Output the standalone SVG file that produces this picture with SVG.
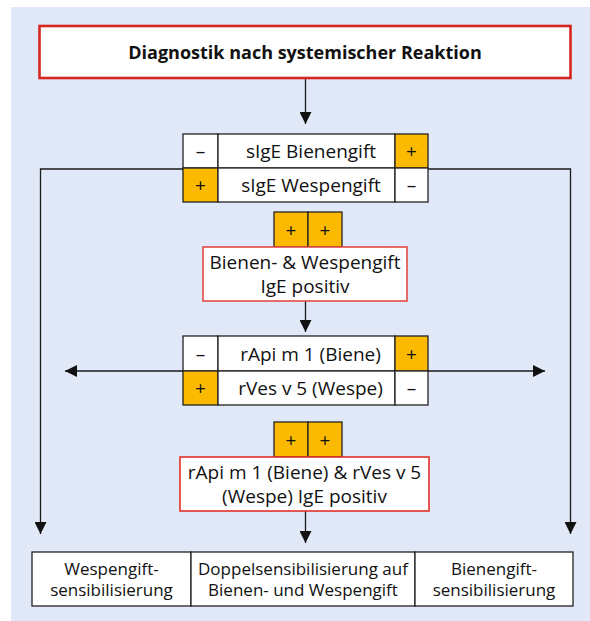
<svg xmlns="http://www.w3.org/2000/svg" width="590" height="621" viewBox="0 0 590 621">
  <defs>
    <style>
      .panel { fill: #e1e8f7; }
      .box { fill: #ffffff; stroke: #222222; stroke-width: 1.3; }
      .pos { fill: #fbb900; stroke: #222222; stroke-width: 1.3; }
      .neg { fill: #ffffff; stroke: #222222; stroke-width: 1.3; }
      .red { fill: #ffffff; stroke: #e0302a; stroke-width: 1.6; }
      .soft { stroke: #e34a45; }
      .head { fill: #ffffff; stroke: #d7261e; stroke-width: 2.6; }
      .wire { fill: none; stroke: #1a1a1a; stroke-width: 1.3; }
      text { font-family: "Open Sans", "Liberation Sans", sans-serif; font-size: 19px; fill: #111111; text-anchor: middle; }
      .title { font-weight: bold; font-size: 18px; }
      .out { font-size: 17px; }
    </style>
    <marker id="arrow" viewBox="0 0 12 12" refX="12" refY="6" markerWidth="12" markerHeight="12" markerUnits="userSpaceOnUse" orient="auto">
      <path d="M0,0 L12,6 L0,12 z" fill="#111111"/>
    </marker>
  </defs>

  <rect class="panel" x="11" y="7" width="579" height="614"/>

  <!-- connectors -->
  <g id="connectors">
    <line class="wire" x1="305.5" y1="79" x2="305.5" y2="124" marker-end="url(#arrow)"/>
    <polyline class="wire" points="183,169 40.5,169 40.5,534" marker-end="url(#arrow)"/>
    <polyline class="wire" points="428,169 570.5,169 570.5,534" marker-end="url(#arrow)"/>
    <line class="wire" x1="305.5" y1="301" x2="305.5" y2="332" marker-end="url(#arrow)"/>
    <line class="wire" x1="183" y1="371" x2="65" y2="371" marker-end="url(#arrow)"/>
    <line class="wire" x1="428" y1="371" x2="545" y2="371" marker-end="url(#arrow)"/>
    <line class="wire" x1="305.5" y1="511" x2="305.5" y2="543" marker-end="url(#arrow)"/>
  </g>

  <!-- start node -->
  <g id="start">
    <rect class="head" x="39.5" y="26" width="531" height="52"/>
    <text class="title" x="305" y="58.5">Diagnostik nach systemischer Reaktion</text>
  </g>

  <!-- total venom sIgE -->
  <g id="sige-table">
    <rect class="neg" x="183" y="134" width="35" height="34"/>
    <rect class="box" x="218" y="134" width="177" height="34"/>
    <rect class="pos" x="395" y="134" width="33" height="34"/>
    <rect class="pos" x="183" y="168" width="35" height="34"/>
    <rect class="box" x="218" y="168" width="177" height="34"/>
    <rect class="neg" x="395" y="168" width="33" height="34"/>
    <text x="200.5" y="158">–</text>
    <text x="311" y="158">sIgE Bienengift</text>
    <text x="411.5" y="158">+</text>
    <text x="200.5" y="192">+</text>
    <text x="311" y="192">sIgE Wespengift</text>
    <text x="411.5" y="192">–</text>
  </g>

  <!-- both total venom extracts positive -->
  <g id="double-positive">
    <rect class="pos" x="274" y="212" width="34" height="35"/>
    <rect class="pos" x="308" y="212" width="34" height="35"/>
    <text x="291" y="236.5">+</text>
    <text x="325" y="236.5">+</text>
    <rect class="red soft" x="203" y="247" width="204" height="54"/>
    <text x="305" y="268.5">Bienen- &amp; Wespengift</text>
    <text x="305" y="292.5">IgE positiv</text>
  </g>

  <!-- recombinant marker allergens -->
  <g id="component-table">
    <rect class="neg" x="183" y="336" width="35" height="35"/>
    <rect class="box" x="218" y="336" width="177" height="35"/>
    <rect class="pos" x="395" y="336" width="33" height="35"/>
    <rect class="pos" x="183" y="371" width="35" height="34"/>
    <rect class="box" x="218" y="371" width="177" height="34"/>
    <rect class="neg" x="395" y="371" width="33" height="34"/>
    <text x="200.5" y="360.5">–</text>
    <text x="310.5" y="360.5">rApi m 1 (Biene)</text>
    <text x="411.5" y="360.5">+</text>
    <text x="200.5" y="395">+</text>
    <text x="310.5" y="395">rVes v 5 (Wespe)</text>
    <text x="411.5" y="395">–</text>
  </g>

  <!-- both marker allergens positive -->
  <g id="component-positive">
    <rect class="pos" x="274" y="422" width="34" height="35"/>
    <rect class="pos" x="308" y="422" width="34" height="35"/>
    <text x="291" y="446.5">+</text>
    <text x="325" y="446.5">+</text>
    <rect class="red" x="180" y="457" width="249" height="54"/>
    <text x="304.5" y="478.5">rApi m 1 (Biene) &amp; rVes v 5</text>
    <text x="304.5" y="502.5">(Wespe) IgE positiv</text>
  </g>

  <!-- outcomes -->
  <g id="wasp-sensitisation">
    <rect class="box" x="32" y="552" width="159" height="54"/>
    <text class="out" x="111.5" y="574.5">Wespengift-</text>
    <text class="out" x="111.5" y="595.5">sensibilisierung</text>
  </g>
  <g id="double-sensitisation">
    <rect class="box" x="191" y="552" width="224" height="54"/>
    <text class="out" x="303" y="574.5">Doppelsensibilisierung auf</text>
    <text class="out" x="303" y="595.5">Bienen- und Wespengift</text>
  </g>
  <g id="bee-sensitisation">
    <rect class="box" x="415" y="552" width="158" height="54"/>
    <text class="out" x="494" y="574.5">Bienengift-</text>
    <text class="out" x="494" y="595.5">sensibilisierung</text>
  </g>
</svg>
